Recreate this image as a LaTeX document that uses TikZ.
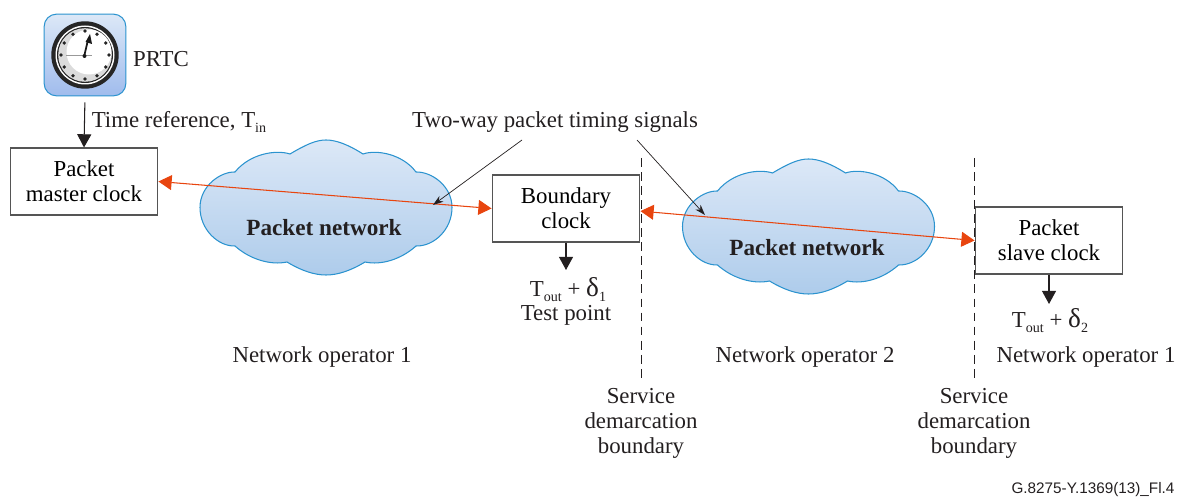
\documentclass[tikz,border=0pt]{standalone}
\usepackage{fontspec}
\setmainfont{Liberation Serif}
\newfontfamily\footfont{Liberation Sans}
\usetikzlibrary{arrows.meta}
\definecolor{inkgray}{HTML}{231F20}
\definecolor{boxgray}{HTML}{555555}
\definecolor{cloudline}{HTML}{2B93CF}
\definecolor{signalred}{HTML}{E8450F}
\definecolor{cloudtop}{HTML}{DCE8F7}
\definecolor{cloudmid}{HTML}{D6DAEC}
\definecolor{cloudbot}{HTML}{AECCEB}
\newcommand{\lowtext}[1]{\raisebox{-0.5ex}{\footnotesize #1}}
\newcommand{\bigdelta}{{\fontsize{15.5}{15}\selectfont δ}}
\tikzset{
  clockbox/.style={draw=boxgray,line width=0.75pt,fill=white,minimum width=84pt,minimum height=38pt,align=center},
  plainlabel/.style={text=inkgray,align=center,yshift=-1.3pt},
  cloudtext/.style={text=inkgray,font=\fontsize{13.2}{15}\selectfont\bfseries},
  feedarrow/.style={draw=inkgray,line width=0.6pt,-{Triangle[length=7.5pt,width=8pt]}},
  callout/.style={draw=inkgray,line width=0.4pt,-{Stealth[length=6pt,width=4pt]}},
  signal/.style={draw=signalred,line width=0.6pt,{Triangle[length=7.5pt,width=8.5pt]}-{Triangle[length=7.5pt,width=8.5pt]}},
  boundary/.style={draw=inkgray,line width=0.5pt,dash pattern=on 5pt off 3pt},
  netcloud/.pic={
    \draw [cloudline,line width=0.6pt,top color=cloudtop,middle color=cloudmid,bottom color=cloudbot]
      (-36,-53.5) .. controls (-20,-63) and (-10,-67.5) .. (0,-67.5)
      .. controls (10,-67.5) and (22,-63) .. (37,-53.5)
      .. controls (50,-58) and (76,-54) .. (90,-35.5)
      .. controls (105,-36) and (126,-22) .. (126,0)
      .. controls (126,22) and (108,39) .. (90,38.5)
      .. controls (75,52) and (55,58) .. (39,54.5)
      .. controls (25,63) and (12,67.5) .. (0,67.5)
      .. controls (-12,67.5) and (-25,63) .. (-39,54.5)
      .. controls (-55,58) and (-76,52) .. (-91,38.5)
      .. controls (-108,39) and (-126,22) .. (-126,0)
      .. controls (-126,-22) and (-105,-36) .. (-91,-35.5)
      .. controls (-76,-54) and (-50,-58) .. (-36,-53.5) -- cycle;
  }
}
\begin{document}
\begin{tikzpicture}[x=0.02cm,y=-0.02cm,font=\fontsize{13}{14.3}\selectfont]
\tikzstyle{every node}+=[inner sep=0pt]
\useasboundingbox (0,0) rectangle (1185,499);
% PRTC icon
\node (prtc) at (85,55) [draw=cloudline,line width=0.6pt,rounded corners=7pt,minimum width=46.5pt,minimum height=46.5pt,top color=cloudtop,bottom color=cloudbot!92!blue] {};
\fill [black!85] (85,55) circle (33.7);
\fill [white] (85,55) circle (29.5);
\fill [black!85] (85,55) circle (28);
\fill [black!14] (85,55) circle (26.8);
\fill [white] (89,52) circle (22.5);
\foreach \a in {0,30,...,330}
  \fill [black!85] (85,55) ++(\a:24) circle (1.8);
\draw [black!40,line width=0.3pt] (66,55) -- (92,55);
\draw [black!90,line width=1pt] (84,57) -- (87.5,42);
\fill [black!90] (90,34) -- (92,44) -- (85.5,42) -- cycle;
\fill [black!90] (84.5,56) circle (2);
\node (prtclabel) at (161,57) [plainlabel] {PRTC};
% boxes
\node (mclock) at (84,181.5) [clockbox] {Packet\\master clock};
\node (bclock) at (566,208.5) [clockbox] {Boundary\\clock};
\node (sclock) at (1049,240.5) [clockbox] {Packet\\slave clock};
% clouds
\pic at (326,207.5) {netcloud};
\pic at (808.5,226.5) {netcloud};
\node (cloudA) at (324,228) [cloudtext] {Packet network};
\node (cloudB) at (807,248) [cloudtext] {Packet network};
% labels
\node (timeref) at (179,120) [plainlabel] {Time reference, T\lowtext{in}};
\node (twoway) at (555,120) [plainlabel] {Two-way packet timing signals};
\node (toutA) at (568,287) [plainlabel] {T\lowtext{out} + \bigdelta\lowtext{1}};
\node (testpt) at (566,313) [plainlabel] {Test point};
\node (toutB) at (1050,318) [plainlabel] {T\lowtext{out} + \bigdelta\lowtext{2}};
\node (opA) at (322,355) [plainlabel] {Network operator 1};
\node (opB) at (805,355) [plainlabel] {Network operator 2};
\node (opC) at (1086,355) [plainlabel] {Network operator 1};
\node (sdbA) at (641,419) [plainlabel,text depth=0pt] {Service\\demarcation\\boundary};
\node (sdbB) at (974,419) [plainlabel,text depth=0pt] {Service\\demarcation\\boundary};
\node (figid) at (1093,490) [text=inkgray,font=\footfont\fontsize{8.7}{10}\selectfont] {G.8275-Y.1369(13)\_Fl.4};
% service boundaries
\coordinate (bndAtop) at (641,158);
\coordinate (bndAend) at (641,381);
\coordinate (bndBtop) at (974,158);
\coordinate (bndBend) at (974,381);
\draw [boundary] (bndAtop) -- (bndAend);
\draw [boundary] (bndBtop) -- (bndBend);
% arrows
\draw [feedarrow,shorten <=3.4pt] (prtc.south) -- (mclock.north);
\draw [feedarrow] (bclock.south) -- (566,270);
\draw [feedarrow] (sclock.south) -- (1049,304);
\draw [signal] (mclock.east) -- (bclock.west);
\draw [signal] (bclock.-2) -- (sclock.west);
\coordinate (hitA) at (433,205);
\coordinate (hitB) at (705,215);
\draw [callout] (522,140) -- (hitA);
\draw [callout] (637,140) -- (hitB);
\end{tikzpicture}
\end{document}
